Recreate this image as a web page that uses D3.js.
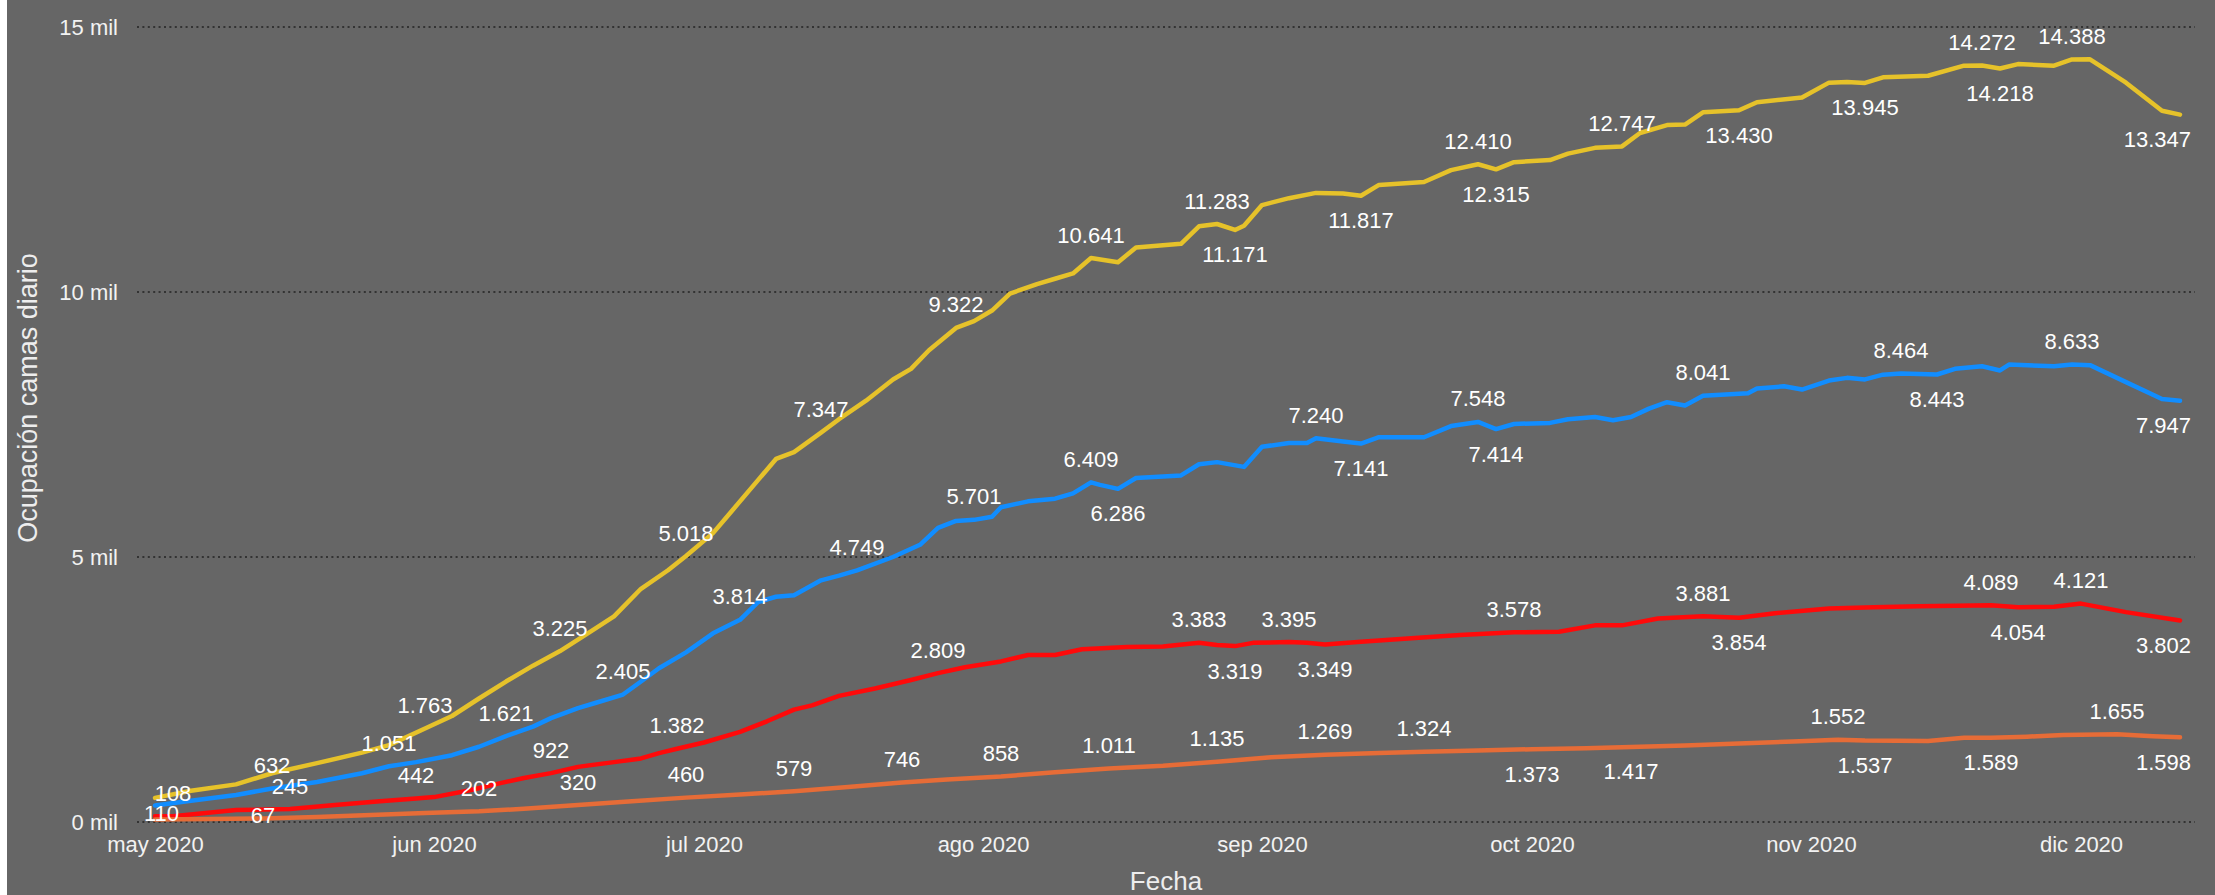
<!DOCTYPE html>
<html><head><meta charset="utf-8">
<script src="https://cdn.jsdelivr.net/npm/d3@7"></script>
<style>
html,body{margin:0;padding:0;background:#666666;overflow:hidden;}
svg{display:block;}
</style></head><body>
<script>
// ---- DATA (day = days since 2020-05-01) ----
const startDay = "2020-05-01";
const yellowSeries = [[0,455],[4,590],[9,710],[13,920],[18,1110],[23,1310],[26,1450],[30,1763],[33,2000],[36,2330],[39,2650],[42,2950],[45,3225],[48,3550],[51,3880],[54,4400],[57,4750],[59,5018],[62,5450],[64,5850],[67,6450],[69,6850],[71,6980],[74,7347],[76,7600],[79,7950],[82,8350],[84,8550],[86,8900],[89,9322],[91,9450],[93,9650],[95,9970],[98,10150],[100,10250],[102,10350],[104,10641],[107,10560],[109,10840],[112,10880],[114,10910],[116,11240],[118,11283],[120,11171],[121,11250],[123,11640],[126,11770],[129,11870],[132,11860],[134,11817],[136,12020],[141,12075],[144,12300],[147,12410],[149,12315],[151,12450],[155,12490],[157,12610],[160,12720],[163,12747],[165,13000],[168,13150],[170,13160],[172,13390],[176,13430],[178,13580],[183,13670],[186,13950],[188,13960],[190,13945],[192,14050],[197,14080],[201,14270],[203,14272],[205,14218],[207,14300],[211,14270],[213,14388],[215,14390],[219,13950],[223,13420],[225,13347]];
const blueSeries = [[0,310],[4,400],[9,509],[13,632],[18,755],[23,920],[26,1051],[29,1130],[33,1260],[36,1420],[39,1621],[42,1800],[44,1960],[47,2150],[49,2250],[52,2405],[54,2650],[56,2900],[59,3200],[62,3560],[65,3814],[67,4150],[69,4250],[71,4280],[74,4560],[76,4650],[78,4749],[82,5000],[85,5230],[87,5550],[89,5680],[91,5701],[93,5760],[94,5940],[97,6050],[100,6100],[102,6200],[104,6409],[105,6360],[107,6286],[109,6490],[114,6540],[116,6750],[118,6790],[121,6700],[123,7080],[126,7150],[128,7150],[129,7240],[132,7180],[134,7141],[136,7260],[141,7260],[144,7470],[147,7548],[149,7414],[151,7510],[155,7530],[157,7600],[160,7640],[162,7580],[164,7640],[166,7800],[168,7920],[170,7860],[172,8041],[177,8090],[178,8180],[181,8220],[183,8160],[186,8330],[188,8380],[190,8350],[192,8440],[194,8464],[198,8443],[200,8550],[203,8600],[205,8520],[206,8630],[211,8600],[213,8633],[215,8620],[219,8300],[223,7980],[225,7947]];
const redSeries = [[0,110],[2,108],[9,226],[15,245],[20,320],[25,390],[29,442],[31,470],[35,600],[38,720],[41,830],[44,922],[47,1040],[51,1130],[54,1200],[56,1300],[58,1382],[61,1500],[65,1700],[68,1900],[71,2120],[73,2200],[76,2380],[80,2520],[84,2680],[87,2809],[90,2920],[94,3030],[97,3150],[100,3150],[103,3260],[108,3300],[112,3310],[116,3383],[118,3340],[120,3319],[122,3380],[126,3395],[128,3380],[130,3349],[134,3400],[140,3470],[145,3530],[151,3578],[156,3590],[160,3710],[163,3710],[167,3840],[172,3881],[176,3854],[180,3940],[186,4030],[191,4050],[196,4070],[204,4089],[207,4054],[211,4060],[214,4121],[219,3960],[225,3802]];
const orangeSeries = [[0,45],[6,55],[12,67],[18,95],[24,130],[30,170],[36,202],[41,250],[47,320],[53,390],[59,460],[65,520],[71,579],[77,660],[83,746],[88,800],[94,858],[100,940],[106,1011],[112,1060],[118,1135],[124,1220],[130,1269],[136,1300],[141,1324],[147,1350],[153,1373],[159,1390],[164,1417],[170,1445],[176,1480],[182,1520],[187,1552],[190,1537],[197,1530],[201,1590],[204,1589],[208,1610],[212,1640],[218,1655],[222,1620],[225,1598]];

// labelled points: [day, placement]  a = above, b = below, c = on the line
const yellowLabels = [[30,"a"],[45,"a"],[59,"a"],[74,"a"],[89,"a"],[104,"a"],[118,"a"],[120,"b"],[134,"b"],[147,"a"],[149,"b"],[163,"a"],[176,"b"],[190,"b"],[203,"a"],[205,"b"],[213,"a"],[225,"b"]];
const blueLabels = [[13,"a"],[26,"a"],[39,"a"],[52,"a"],[65,"a"],[78,"a"],[91,"a"],[104,"a"],[107,"b"],[129,"a"],[134,"b"],[147,"a"],[149,"b"],[172,"a"],[194,"a"],[198,"b"],[213,"a"],[225,"b"]];
const redLabels = [[0,"c"],[2,"a"],[15,"a"],[29,"a"],[44,"a"],[58,"a"],[87,"a"],[116,"a"],[120,"b"],[126,"a"],[130,"b"],[151,"a"],[172,"a"],[176,"b"],[204,"a"],[207,"b"],[214,"a"],[225,"b"]];
const orangeLabels = [[12,"c"],[36,"a"],[47,"a"],[59,"a"],[71,"a"],[83,"a"],[94,"a"],[106,"a"],[118,"a"],[130,"a"],[141,"a"],[153,"b"],[164,"b"],[187,"a"],[190,"b"],[204,"b"],[218,"a"],[225,"b"]];

const monthTicks = ["2020-05-01","2020-06-01","2020-07-01","2020-08-01","2020-09-01","2020-10-01","2020-11-01","2020-12-01"];
const monthLabels = ["may 2020","jun 2020","jul 2020","ago 2020","sep 2020","oct 2020","nov 2020","dic 2020"];
const yTicks = [0,5000,10000,15000];
const yTickLabels = ["0 mil","5 mil","10 mil","15 mil"];
const seriesColors = ["#E6C22A","#118DFF","#FF0A0A","#E66C37"];
const yTitle = "Ocupación camas diario";
const xTitle = "Fecha";

// ---- CHART ----
const W = 2215, H = 895;
const FONT = "'Liberation Sans', Arial, sans-serif";
const parse = d3.timeParse("%Y-%m-%d");
const t0 = parse(startDay);
const toDate = d => d3.timeDay.offset(t0, d);

const plotL = 137, plotR = 2195;
const x = d3.scaleTime().domain([t0, toDate(225)]).range([155, 2180]);
const y = d3.scaleLinear().domain([0, 15000]).range([822, 27]);

const fmt = d3.formatLocale({decimal: ",", thousands: ".", grouping: [3], currency: ["", ""]}).format(",d");

const svg = d3.select("body").append("svg").attr("width", W).attr("height", H);
svg.append("rect").attr("width", W).attr("height", H).attr("fill", "#666666");
svg.append("rect").attr("width", 7).attr("height", H).attr("fill", "#ffffff");

// gridlines
svg.append("g").selectAll("line").data(yTicks).join("line")
  .attr("x1", plotL).attr("x2", plotR)
  .attr("y1", d => y(d)).attr("y2", d => y(d))
  .attr("stroke", "#333333").attr("stroke-width", 2)
  .attr("stroke-dasharray", "2,3.4");

// y axis
const yAxis = d3.axisLeft(y).tickValues(yTicks).tickSize(0).tickPadding(0)
  .tickFormat((d, i) => yTickLabels[i]);
const gy = svg.append("g").attr("transform", "translate(118,0)").call(yAxis);
gy.select(".domain").remove();
gy.selectAll("text").attr("font-family", FONT).attr("font-size", 22).attr("fill", "#F2F2F2")
  .attr("dy", null).attr("dominant-baseline", "central");

// x axis
const xAxis = d3.axisBottom(x).tickValues(monthTicks.map(parse)).tickSize(0).tickPadding(0)
  .tickFormat((d, i) => monthLabels[i]);
const gx = svg.append("g").attr("transform", "translate(0,852)").call(xAxis);
gx.select(".domain").remove();
gx.selectAll("text").attr("font-family", FONT).attr("font-size", 22).attr("fill", "#F2F2F2")
  .attr("dy", null).attr("y", 0);

// titles
svg.append("text").attr("transform", "translate(28,398) rotate(-90)")
  .attr("text-anchor", "middle").attr("dominant-baseline", "central")
  .attr("font-family", FONT).attr("font-size", 27).attr("fill", "#EDEDED").text(yTitle);
svg.append("text").attr("x", (plotL + plotR) / 2).attr("y", 890)
  .attr("text-anchor", "middle").attr("font-family", FONT).attr("font-size", 26)
  .attr("fill", "#EDEDED").text(xTitle);

// lines
const allSeries = [yellowSeries, blueSeries, redSeries, orangeSeries];
const allLabels = [yellowLabels, blueLabels, redLabels, orangeLabels];
const line = d3.line().x(d => x(toDate(d[0]))).y(d => y(d[1]));
svg.append("g").selectAll("path").data(allSeries).join("path")
  .attr("d", line).attr("fill", "none")
  .attr("stroke", (d, i) => seriesColors[i]).attr("stroke-width", 4.5)
  .attr("stroke-linejoin", "round").attr("stroke-linecap", "round");

// data labels
const lg = svg.append("g");
const offs = {a: -23, b: 25, c: -3};
allLabels.forEach((labs, si) => {
  const lookup = new Map(allSeries[si]);
  labs.forEach(([day, pos]) => {
    const v = lookup.get(day);
    const t = lg.append("text")
      .attr("font-family", FONT).attr("font-size", 22).attr("fill", "#FFFFFF")
      .attr("text-anchor", "middle").attr("dominant-baseline", "central")
      .attr("y", y(v) + offs[pos]).text(fmt(v));
    const w = t.node().getComputedTextLength();
    let cx = x(toDate(day));
    cx = Math.min(cx, 2191 - w / 2);
    cx = Math.max(cx, 144 + w / 2);
    t.attr("x", cx);
  });
});
</script>
</body></html>
